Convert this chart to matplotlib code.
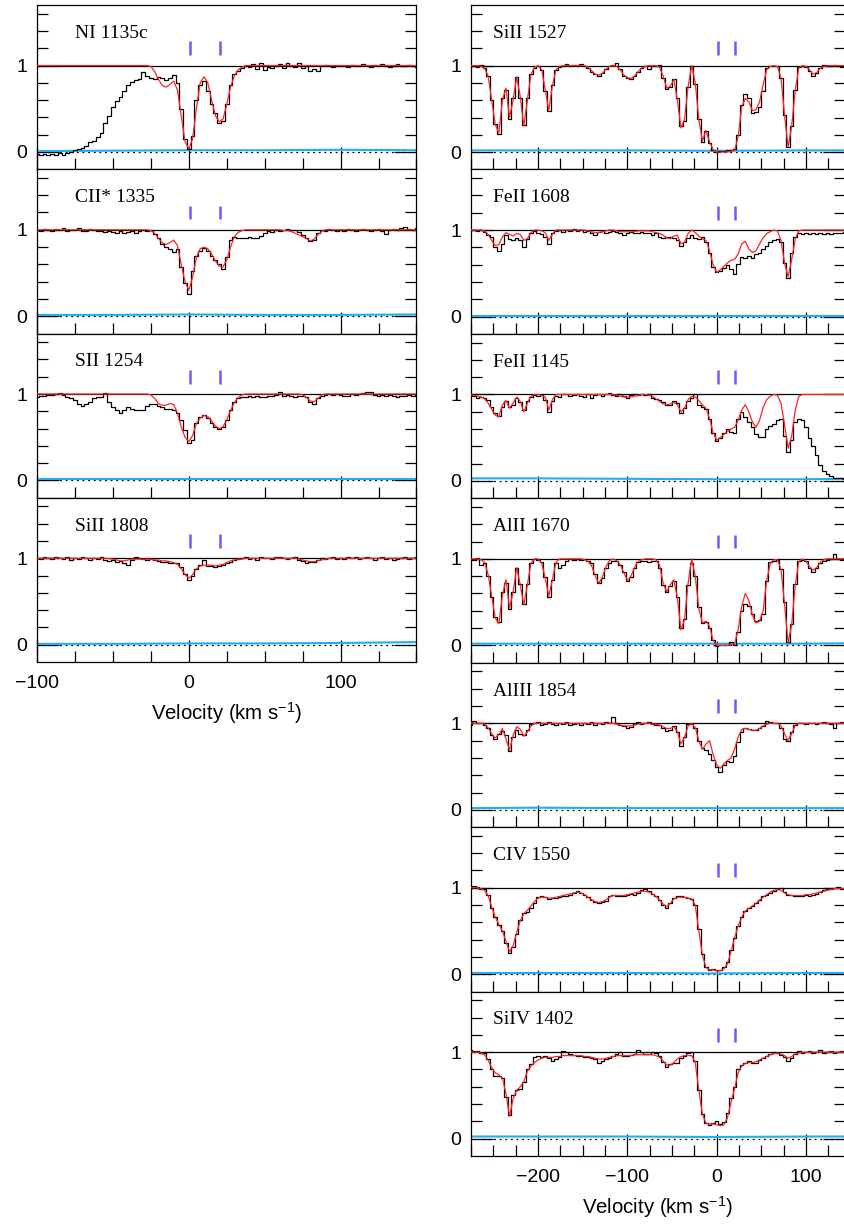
import numpy as np
import matplotlib
matplotlib.use("Agg")
import matplotlib.pyplot as plt
from matplotlib.ticker import MultipleLocator, FixedLocator

plt.rcParams['font.family'] = ['Liberation Sans', 'DejaVu Sans']
plt.rcParams['mathtext.fontset'] = 'custom'
plt.rcParams['mathtext.rm'] = 'Liberation Sans'
plt.rcParams['mathtext.default'] = 'regular'

# velocity sampling of the spectra (km/s)
v_left = np.arange(-100, 150.1, 2.5)     # 101 pixels
v_right = np.arange(-276, 144.1, 4.0)    # 106 pixels
err_v_left = [-100, -50, 0, 50, 100, 150]
err_v_right = [-276, -200, -100, 0, 100, 144]
comp_v = [1.0, 20.5]   # fitted components (purple ticks)

# ---- left column -------------------------------------------------------
ni1135_flux = [
    -0.02, -0.03, -0.02, -0.03, -0.02, -0.03, -0.01, -0.03, -0.01, 0.00,
    0.02, 0.03, 0.05, 0.07, 0.11, 0.13, 0.17, 0.22, 0.33, 0.42,
    0.52, 0.59, 0.64, 0.70, 0.77, 0.81, 0.83, 0.84, 0.92, 0.88,
    0.86, 0.84, 0.87, 0.85, 0.83, 0.85, 0.89, 0.80, 0.50, 0.15,
    0.04, 0.18, 0.60, 0.78, 0.82, 0.70, 0.55, 0.45, 0.34, 0.36,
    0.55, 0.78, 0.90, 0.94, 0.97, 0.99, 0.98, 1.02, 0.96, 1.03,
    0.95, 0.98, 0.97, 0.99, 1.02, 0.97, 1.03, 0.99, 0.98, 1.03,
    0.97, 0.99, 0.94, 0.96, 0.94, 1.00, 1.01, 0.99, 0.98, 1.00,
    0.99, 1.00, 0.98, 1.01, 0.99, 1.00, 1.02, 0.99, 0.98, 1.01,
    1.00, 1.02, 0.99, 0.98, 1.00, 1.02, 0.99, 1.00, 1.01, 0.99,
    0.98]
ni1135_model = [
    1, 1, 1, 1, 1, 1, 1, 1, 1, 1,
    1, 1, 1, 1, 1, 1, 1, 1, 1, 1,
    1, 1, 1, 1, 1, 1, 1, 1, 1, 1,
    0.99, 0.93, 0.84, 0.77, 0.75, 0.78, 0.82, 0.72, 0.42, 0.12,
    0.04, 0.15, 0.50, 0.80, 0.87, 0.80, 0.60, 0.42, 0.35, 0.38,
    0.55, 0.75, 0.88, 0.95, 0.98, 1, 1, 1, 1, 1,
    1, 1, 1, 1, 1, 1, 1, 1, 1, 1,
    1, 1, 1, 1, 1, 1, 1, 1, 1, 1,
    1, 1, 1, 1, 1, 1, 1, 1, 1, 1,
    1, 1, 1, 1, 1, 1, 1, 1, 1, 1,
    1]
ni1135_err = [0.01, 0.015, 0.02, 0.02, 0.025, 0.02]

cii1335_flux = [
    1.00, 0.99, 1.01, 1.00, 0.99, 1.01, 1.00, 1.02, 0.99, 1.00,
    1.00, 1.02, 0.99, 0.99, 1.01, 1.00, 0.98, 0.99, 0.97, 0.98,
    0.97, 0.96, 0.98, 0.96, 0.97, 0.98, 0.96, 0.99, 1.00, 0.99,
    1.00, 0.95, 0.90, 0.84, 0.80, 0.78, 0.74, 0.78, 0.57, 0.38,
    0.26, 0.52, 0.70, 0.76, 0.79, 0.76, 0.70, 0.65, 0.60, 0.55,
    0.69, 0.88, 0.92, 0.90, 0.91, 0.90, 0.92, 0.91, 0.90, 0.93,
    0.96, 0.98, 0.97, 1.00, 0.99, 1.00, 1.01, 1.00, 1.00, 0.97,
    0.94, 0.91, 0.87, 0.88, 0.96, 1.00, 0.99, 1.01, 1.00, 0.99,
    1.00, 0.99, 1.01, 1.00, 0.99, 1.00, 1.01, 1.00, 0.99, 1.00,
    1.01, 0.99, 0.95, 1.00, 1.01, 1.00, 1.02, 1.03, 1.01, 1.00,
    1.02]
cii1335_model = [
    1, 1, 1, 1, 1, 1, 1, 1, 1, 1,
    1, 1, 1, 1, 1, 1, 1, 1, 1, 1,
    1, 1, 1, 1, 1, 1, 1, 1, 1, 1,
    0.99, 0.96, 0.90, 0.85, 0.83, 0.85, 0.88, 0.82, 0.60, 0.40,
    0.30, 0.45, 0.68, 0.78, 0.80, 0.78, 0.72, 0.64, 0.58, 0.57,
    0.65, 0.80, 0.92, 0.97, 0.99, 1, 1, 1, 1, 1,
    1, 1, 1, 1, 1, 0.99, 0.99, 0.98, 0.96, 0.94,
    0.92, 0.90, 0.87, 0.89, 0.94, 0.98, 1, 1, 1, 1,
    1, 1, 1, 1, 1, 1, 1, 1, 1, 1,
    1, 1, 1, 1, 1, 1, 1, 1, 1, 1,
    1]
cii1335_err = [0.015, 0.015, 0.02, 0.015, 0.015, 0.02]

sii1254_flux = [
    0.97, 0.98, 0.98, 0.99, 0.99, 1.00, 1.01, 0.99, 0.97, 0.95,
    0.93, 0.89, 0.86, 0.88, 0.91, 0.95, 0.96, 0.97, 1.01, 0.91,
    0.85, 0.81, 0.78, 0.82, 0.85, 0.83, 0.82, 0.82, 0.82, 0.86,
    0.89, 0.89, 0.86, 0.85, 0.83, 0.83, 0.82, 0.78, 0.70, 0.58,
    0.43, 0.47, 0.66, 0.73, 0.76, 0.72, 0.66, 0.62, 0.59, 0.62,
    0.70, 0.82, 0.91, 0.95, 0.97, 0.97, 0.98, 0.97, 0.98, 0.97,
    0.97, 0.98, 0.98, 0.99, 1.02, 0.98, 0.99, 0.98, 0.97, 0.98,
    0.98, 0.96, 0.91, 0.88, 0.95, 0.98, 0.99, 1.00, 0.99, 1.00,
    0.99, 0.98, 0.98, 1.00, 0.99, 1.00, 1.01, 1.02, 1.02, 0.99,
    0.98, 0.99, 0.98, 0.99, 0.98, 0.97, 0.98, 0.98, 0.99, 0.98,
    0.99]
sii1254_model = [
    1, 1, 1, 1, 1, 1, 1, 1, 1, 1,
    1, 1, 1, 1, 1, 1, 1, 1, 1, 1,
    1, 1, 1, 1, 1, 1, 1, 1, 1, 1,
    0.99, 0.95, 0.89, 0.87, 0.87, 0.89, 0.88, 0.78, 0.62, 0.50,
    0.45, 0.52, 0.66, 0.72, 0.75, 0.74, 0.69, 0.63, 0.60, 0.62,
    0.70, 0.81, 0.90, 0.96, 0.99, 1, 1, 1, 1, 1,
    1, 1, 1, 1, 1, 1, 1, 1, 1, 1,
    0.99, 0.96, 0.92, 0.91, 0.95, 0.99, 1, 1, 1, 1,
    1, 1, 1, 1, 1, 1, 1, 1, 1, 1,
    1, 1, 1, 1, 1, 1, 1, 1, 1, 1,
    1]
sii1254_err = [0.02, 0.02, 0.02, 0.02, 0.02, 0.02]

sii1808_flux = [
    1.00, 0.99, 1.01, 1.00, 0.99, 1.02, 1.00, 0.99, 1.01, 0.98,
    1.00, 0.99, 1.02, 1.00, 0.98, 1.00, 0.99, 1.01, 0.98, 0.97,
    0.98, 0.96, 0.97, 0.95, 0.92, 0.98, 1.02, 1.00, 0.99, 0.98,
    0.99, 0.98, 0.97, 0.96, 0.96, 0.95, 0.95, 0.94, 0.90, 0.82,
    0.75, 0.80, 0.88, 0.92, 0.98, 0.91, 0.91, 0.90, 0.91, 0.92,
    0.95, 0.96, 0.98, 0.99, 1.00, 1.01, 0.99, 1.00, 0.98, 1.01,
    1.00, 1.00, 0.99, 1.01, 1.02, 1.00, 0.99, 1.00, 1.01, 0.98,
    0.97, 0.95, 0.96, 0.96, 0.98, 1.00, 0.99, 1.00, 1.01, 0.99,
    1.00, 0.99, 1.01, 1.00, 1.02, 0.99, 1.00, 1.01, 1.00, 0.98,
    1.00, 1.01, 0.99, 1.00, 0.98, 0.99, 1.00, 1.01, 0.99, 1.00,
    1.01]
sii1808_model = [
    1, 1, 1, 1, 1, 1, 1, 1, 1, 1,
    1, 1, 1, 1, 1, 1, 1, 1, 1, 0.995,
    0.99, 0.98, 0.97, 0.97, 0.98, 0.99, 0.99, 0.99, 0.99, 0.99,
    0.99, 0.98, 0.98, 0.97, 0.97, 0.96, 0.95, 0.93, 0.88, 0.81,
    0.77, 0.81, 0.88, 0.91, 0.92, 0.92, 0.92, 0.91, 0.92, 0.93,
    0.95, 0.97, 0.98, 0.99, 0.99, 1, 1, 1, 1, 1,
    1, 1, 1, 1, 1, 1, 1, 1, 1, 0.99,
    0.98, 0.97, 0.96, 0.96, 0.97, 0.98, 0.99, 1, 1, 1,
    1, 1, 1, 1, 1, 1, 1, 1, 1, 1,
    1, 1, 1, 1, 1, 1, 1, 1, 1, 1,
    1]
sii1808_err = [0.01, 0.01, 0.015, 0.015, 0.02, 0.03]

# ---- right column ------------------------------------------------------
si1527_flux = [
    1.00, 0.99, 0.98, 1.01, 0.97, 0.88, 0.60, 0.32, 0.21, 0.62,
    0.72, 0.38, 0.62, 0.87, 0.63, 0.31, 0.62, 0.90, 0.97, 1.00,
    0.95, 0.71, 0.47, 0.78, 0.95, 0.98, 1.00, 1.02, 0.99, 1.01,
    1.00, 1.02, 0.99, 0.97, 0.93, 0.90, 0.88, 0.91, 0.96, 0.99,
    1.01, 1.03, 0.96, 0.88, 0.86, 0.85, 0.88, 0.93, 0.97, 0.99,
    0.96, 0.99, 1.00, 1.01, 0.86, 0.73, 0.75, 0.84, 0.62, 0.30,
    0.36, 0.75, 0.99, 0.79, 0.38, 0.12, 0.24, 0.10, 0.03, 0.00,
    0.01, 0.01, 0.02, 0.03, 0.04, 0.20, 0.55, 0.67, 0.62, 0.45,
    0.46, 0.52, 0.71, 0.97, 1.00, 0.99, 1.00, 0.86, 0.43, 0.06,
    0.30, 0.72, 0.98, 1.00, 0.98, 0.94, 0.88, 0.92, 0.97, 1.01,
    0.99, 1.00, 1.01, 0.99, 0.98, 0.99]
si1527_model = [
    1.00, 1.00, 1.00, 0.99, 0.97, 0.88, 0.60, 0.32, 0.22, 0.60,
    0.74, 0.40, 0.60, 0.87, 0.64, 0.30, 0.60, 0.90, 0.98, 1.00,
    0.95, 0.72, 0.48, 0.77, 0.95, 0.99, 1.00, 1.00, 1.00, 1.00,
    1.00, 1.00, 1.00, 0.98, 0.94, 0.90, 0.89, 0.91, 0.96, 0.99,
    1.00, 0.99, 0.95, 0.89, 0.86, 0.85, 0.88, 0.93, 0.97, 0.99,
    1.00, 1.00, 1.00, 0.98, 0.88, 0.74, 0.76, 0.84, 0.60, 0.28,
    0.38, 0.76, 1.00, 0.80, 0.38, 0.13, 0.25, 0.12, 0.03, 0.00,
    0.00, 0.00, 0.00, 0.01, 0.02, 0.18, 0.52, 0.62, 0.58, 0.48,
    0.49, 0.58, 0.78, 0.95, 0.99, 1.00, 0.99, 0.86, 0.43, 0.06,
    0.30, 0.72, 0.97, 1.00, 0.99, 0.95, 0.90, 0.92, 0.97, 0.99,
    1.00, 1.00, 1.00, 1.00, 1.00, 1.00]
si1527_err = [0.02, 0.02, 0.02, 0.015, 0.02, 0.02]

fe1608_flux = [
    1.00, 1.00, 0.99, 1.00, 0.98, 0.94, 0.92, 0.80, 0.76, 0.84,
    0.94, 0.90, 0.88, 0.91, 0.88, 0.80, 0.90, 0.96, 0.99, 0.97,
    0.95, 0.92, 0.84, 0.96, 0.99, 1.00, 0.98, 1.00, 0.99, 1.01,
    0.99, 1.00, 0.98, 0.99, 0.97, 0.94, 0.98, 0.99, 0.97, 0.98,
    0.99, 0.98, 0.97, 0.94, 0.96, 0.98, 0.97, 0.97, 0.98, 0.97,
    0.96, 0.94, 0.96, 0.92, 0.91, 0.92, 0.92, 0.91, 0.88, 0.82,
    0.86, 0.91, 0.94, 0.91, 0.90, 0.92, 0.86, 0.73, 0.57, 0.51,
    0.53, 0.56, 0.60, 0.55, 0.49, 0.61, 0.69, 0.68, 0.70, 0.68,
    0.72, 0.73, 0.78, 0.82, 0.86, 0.88, 0.90, 0.86, 0.62, 0.44,
    0.73, 0.92, 0.96, 0.95, 0.96, 0.95, 0.96, 0.95, 0.96, 0.95,
    0.96, 0.95, 0.96, 0.97, 0.96, 0.98]
fe1608_model = [
    1.00, 1.00, 1.00, 1.00, 0.99, 0.95, 0.88, 0.82, 0.83, 0.92,
    0.97, 0.95, 0.93, 0.96, 0.95, 0.88, 0.90, 0.97, 1.00, 1.00,
    0.99, 0.97, 0.88, 0.95, 1.00, 1.00, 1.00, 1.00, 1.00, 1.00,
    1.00, 1.00, 1.00, 0.99, 0.98, 0.97, 0.97, 0.98, 0.99, 1.00,
    1.00, 0.99, 0.98, 0.98, 0.98, 0.98, 0.98, 0.99, 0.99, 0.99,
    0.99, 0.98, 0.97, 0.96, 0.94, 0.91, 0.90, 0.93, 0.94, 0.84,
    0.86, 0.96, 1.00, 0.97, 0.93, 0.90, 0.88, 0.76, 0.60, 0.51,
    0.54, 0.58, 0.62, 0.65, 0.66, 0.72, 0.84, 0.87, 0.78, 0.74,
    0.76, 0.84, 0.91, 0.96, 0.98, 1.00, 0.99, 0.88, 0.62, 0.46,
    0.66, 0.90, 0.99, 1.00, 1.00, 1.00, 1.00, 1.00, 1.00, 1.00,
    1.00, 1.00, 1.00, 1.00, 1.00, 1.00]
fe1608_err = [0.01, 0.01, 0.01, 0.01, 0.01, 0.01]

fe1145_flux = [
    1.00, 0.98, 0.96, 0.97, 0.96, 0.93, 0.85, 0.78, 0.75, 0.86,
    0.92, 0.85, 0.88, 0.96, 0.91, 0.82, 0.92, 0.97, 0.99, 0.98,
    0.99, 0.93, 0.80, 0.92, 0.98, 0.97, 1.00, 1.01, 0.98, 0.99,
    1.00, 0.98, 0.97, 1.00, 0.96, 0.99, 1.01, 0.98, 1.00, 1.02,
    0.99, 0.98, 1.00, 0.98, 0.96, 0.99, 1.00, 0.99, 1.01, 0.99,
    1.01, 0.96, 0.95, 0.93, 0.91, 0.88, 0.88, 0.92, 0.90, 0.79,
    0.84, 0.92, 0.96, 1.01, 0.88, 0.85, 0.83, 0.72, 0.55, 0.46,
    0.50, 0.55, 0.60, 0.57, 0.55, 0.72, 0.80, 0.74, 0.68, 0.62,
    0.54, 0.51, 0.51, 0.60, 0.63, 0.66, 0.70, 0.72, 0.52, 0.33,
    0.47, 0.68, 0.72, 0.70, 0.62, 0.50, 0.40, 0.30, 0.19, 0.12,
    0.08, 0.06, 0.04, 0.03, 0.03, 0.02]
fe1145_model = [
    1.00, 0.99, 0.98, 0.97, 0.95, 0.90, 0.83, 0.76, 0.74, 0.88,
    0.93, 0.84, 0.90, 0.97, 0.92, 0.80, 0.90, 0.98, 1.00, 1.00,
    0.99, 0.97, 0.82, 0.94, 1.00, 1.00, 1.00, 1.00, 1.00, 1.00,
    1.00, 1.00, 1.00, 1.00, 1.00, 1.00, 1.00, 1.00, 1.00, 1.00,
    1.00, 0.99, 0.98, 0.97, 0.97, 0.97, 0.98, 0.99, 1.00, 1.00,
    0.99, 0.98, 0.95, 0.92, 0.89, 0.88, 0.89, 0.91, 0.88, 0.80,
    0.84, 0.94, 0.98, 0.97, 0.93, 0.88, 0.84, 0.72, 0.56, 0.47,
    0.50, 0.54, 0.57, 0.60, 0.62, 0.70, 0.82, 0.88, 0.80, 0.68,
    0.62, 0.70, 0.85, 0.94, 0.98, 1.00, 0.99, 0.90, 0.65, 0.38,
    0.52, 0.82, 0.98, 1.00, 1.00, 1.00, 1.00, 1.00, 1.00, 1.00,
    1.00, 1.00, 1.00, 1.00, 1.00, 1.00]
fe1145_err = [0.03, 0.03, 0.025, 0.02, 0.02, 0.025]

al1670_flux = [
    1.00, 0.99, 1.01, 0.93, 0.95, 0.80, 0.56, 0.33, 0.27, 0.62,
    0.72, 0.42, 0.62, 0.89, 0.71, 0.48, 0.71, 0.95, 1.00, 0.99,
    0.96, 0.79, 0.56, 0.76, 0.95, 0.90, 0.93, 0.98, 1.00, 0.99,
    1.00, 0.99, 1.00, 0.98, 0.95, 0.82, 0.72, 0.78, 0.90, 0.95,
    0.98, 0.97, 0.93, 0.85, 0.74, 0.79, 0.90, 0.96, 0.98, 0.97,
    0.96, 0.98, 0.97, 0.90, 0.70, 0.62, 0.69, 0.74, 0.56, 0.20,
    0.30, 0.70, 0.95, 0.80, 0.44, 0.26, 0.27, 0.20, 0.06, -0.01,
    0.00, 0.00, 0.01, 0.04, 0.01, 0.15, 0.40, 0.48, 0.45, 0.36,
    0.28, 0.29, 0.36, 0.75, 0.96, 0.98, 0.99, 0.88, 0.50, 0.04,
    0.25, 0.71, 0.97, 0.99, 0.97, 0.90, 0.85, 0.90, 0.95, 0.98,
    0.99, 1.00, 1.06, 1.00, 0.99, 1.01]
al1670_model = [
    1.00, 1.00, 1.00, 0.99, 0.96, 0.82, 0.57, 0.32, 0.25, 0.58,
    0.76, 0.43, 0.62, 0.90, 0.70, 0.47, 0.70, 0.95, 1.00, 1.00,
    0.95, 0.78, 0.57, 0.76, 0.96, 1.00, 1.00, 1.00, 1.00, 1.00,
    1.00, 1.00, 0.99, 0.97, 0.92, 0.80, 0.72, 0.79, 0.91, 0.98,
    1.00, 0.98, 0.93, 0.84, 0.75, 0.80, 0.90, 0.97, 0.99, 1.00,
    1.00, 1.00, 0.99, 0.93, 0.72, 0.62, 0.70, 0.76, 0.55, 0.18,
    0.30, 0.72, 1.00, 0.80, 0.43, 0.26, 0.28, 0.22, 0.06, 0.00,
    0.00, 0.00, 0.00, 0.01, 0.02, 0.18, 0.45, 0.60, 0.52, 0.35,
    0.26, 0.28, 0.40, 0.75, 0.95, 0.99, 0.99, 0.88, 0.48, 0.03,
    0.24, 0.70, 0.97, 1.00, 0.97, 0.91, 0.87, 0.90, 0.96, 0.99,
    1.00, 1.00, 1.00, 1.00, 1.00, 1.00]
al1670_err = [0.02, 0.02, 0.02, 0.02, 0.02, 0.025]

al1854_flux = [
    0.98, 1.03, 1.00, 1.00, 0.98, 0.95, 0.86, 0.82, 0.88, 0.91,
    0.86, 0.68, 0.84, 0.92, 0.88, 0.86, 0.92, 0.99, 1.00, 1.01,
    0.98, 0.99, 1.01, 0.99, 0.98, 1.00, 0.99, 1.01, 0.98, 0.99,
    1.00, 0.98, 1.00, 0.99, 1.01, 0.98, 1.00, 0.99, 1.01, 1.00,
    1.07, 1.00, 0.98, 0.97, 0.95, 0.96, 0.99, 1.01, 0.99, 1.00,
    1.01, 0.99, 0.98, 0.98, 0.94, 0.91, 0.92, 0.97, 0.90, 0.74,
    0.84, 0.99, 0.99, 0.94, 0.80, 0.72, 0.69, 0.65, 0.58, 0.50,
    0.44, 0.52, 0.57, 0.55, 0.62, 0.78, 0.90, 0.94, 0.93, 0.92,
    0.92, 0.95, 0.97, 1.03, 1.01, 1.00, 1.00, 0.95, 0.82, 0.80,
    0.90, 0.98, 1.00, 1.00, 0.99, 1.00, 1.00, 0.99, 1.00, 1.01,
    1.00, 0.99, 0.94, 1.00, 1.01, 1.00]
al1854_model = [
    1.00, 1.00, 1.00, 1.00, 0.99, 0.95, 0.88, 0.83, 0.87, 0.94,
    0.82, 0.69, 0.86, 0.96, 0.93, 0.85, 0.90, 0.97, 1.00, 1.00,
    1.00, 1.00, 1.00, 1.00, 1.00, 1.00, 1.00, 1.00, 1.00, 1.00,
    1.00, 1.00, 1.00, 1.00, 1.00, 1.00, 1.00, 1.00, 1.00, 1.00,
    1.00, 0.99, 0.98, 0.97, 0.97, 0.97, 0.98, 0.99, 1.00, 1.00,
    1.00, 0.99, 0.99, 0.98, 0.96, 0.94, 0.94, 0.96, 0.90, 0.76,
    0.84, 0.97, 1.00, 0.95, 0.80, 0.70, 0.76, 0.80, 0.64, 0.52,
    0.48, 0.53, 0.57, 0.60, 0.70, 0.84, 0.93, 0.94, 0.93, 0.92,
    0.92, 0.94, 0.97, 0.99, 1.00, 1.00, 1.00, 0.97, 0.88, 0.80,
    0.88, 0.98, 1.00, 1.00, 1.00, 1.00, 1.00, 1.00, 1.00, 1.00,
    1.00, 1.00, 1.00, 1.00, 1.00, 1.00]
al1854_err = [0.02, 0.025, 0.02, 0.02, 0.02, 0.02]

civ1550_flux = [
    1.00, 1.02, 1.01, 0.99, 0.98, 0.92, 0.77, 0.66, 0.57, 0.50,
    0.36, 0.25, 0.32, 0.47, 0.63, 0.71, 0.72, 0.77, 0.82, 0.89,
    0.90, 0.89, 0.87, 0.88, 0.88, 0.89, 0.90, 0.91, 0.92, 0.94,
    0.96, 0.94, 0.92, 0.89, 0.86, 0.84, 0.82, 0.83, 0.85, 0.90,
    0.92, 0.91, 0.90, 0.91, 0.92, 0.93, 0.92, 0.94, 0.97, 0.99,
    0.96, 0.93, 0.90, 0.86, 0.80, 0.77, 0.82, 0.88, 0.90, 0.90,
    0.89, 0.88, 0.87, 0.80, 0.52, 0.24, 0.08, 0.05, 0.06, 0.05,
    0.05, 0.08, 0.14, 0.28, 0.42, 0.56, 0.66, 0.73, 0.76, 0.79,
    0.82, 0.86, 0.90, 0.92, 0.94, 0.96, 0.98, 1.00, 0.95, 0.92,
    0.92, 0.91, 0.91, 0.90, 0.92, 0.91, 0.92, 0.93, 0.95, 0.97,
    0.98, 0.99, 1.00, 1.01, 0.99, 0.99]
civ1550_model = [
    1.00, 1.00, 1.00, 0.99, 0.97, 0.91, 0.78, 0.66, 0.58, 0.50,
    0.38, 0.26, 0.33, 0.48, 0.62, 0.70, 0.74, 0.79, 0.84, 0.88,
    0.89, 0.89, 0.88, 0.88, 0.89, 0.90, 0.91, 0.92, 0.93, 0.94,
    0.95, 0.94, 0.92, 0.89, 0.86, 0.84, 0.83, 0.84, 0.86, 0.89,
    0.91, 0.91, 0.91, 0.91, 0.92, 0.93, 0.94, 0.95, 0.96, 0.96,
    0.95, 0.93, 0.90, 0.86, 0.81, 0.78, 0.82, 0.87, 0.89, 0.89,
    0.89, 0.88, 0.87, 0.80, 0.50, 0.22, 0.08, 0.05, 0.05, 0.04,
    0.04, 0.06, 0.12, 0.26, 0.42, 0.56, 0.66, 0.73, 0.76, 0.79,
    0.82, 0.86, 0.89, 0.92, 0.95, 0.97, 0.98, 0.97, 0.94, 0.92,
    0.91, 0.91, 0.91, 0.91, 0.92, 0.92, 0.93, 0.94, 0.95, 0.96,
    0.97, 0.98, 0.99, 0.99, 0.99, 0.99]
civ1550_err = [0.015, 0.015, 0.015, 0.01, 0.015, 0.015]

siiv1402_flux = [
    1.02, 1.01, 1.01, 0.99, 0.99, 0.92, 0.80, 0.73, 0.72, 0.70,
    0.48, 0.27, 0.50, 0.56, 0.57, 0.65, 0.81, 0.86, 0.94, 0.95,
    0.94, 0.95, 0.93, 0.90, 0.92, 0.94, 1.01, 1.00, 0.98, 0.97,
    0.96, 0.96, 0.94, 0.94, 0.93, 0.92, 0.88, 0.90, 0.92, 0.93,
    0.96, 0.98, 1.00, 0.96, 0.95, 0.97, 0.98, 1.03, 1.00, 0.98,
    0.98, 1.00, 0.99, 0.96, 0.89, 0.83, 0.86, 0.88, 0.88, 0.93,
    0.95, 0.99, 1.00, 0.90, 0.56, 0.29, 0.18, 0.16, 0.18, 0.20,
    0.17, 0.19, 0.30, 0.47, 0.60, 0.80, 0.85, 0.88, 0.90, 0.87,
    0.88, 0.91, 0.93, 0.96, 0.98, 1.00, 0.99, 0.97, 0.94, 0.90,
    0.93, 0.98, 1.01, 0.99, 1.00, 1.01, 0.99, 1.00, 1.02, 0.99,
    1.00, 1.01, 0.99, 1.00, 1.01, 1.00]
siiv1402_model = [
    1.00, 1.00, 1.00, 0.99, 0.97, 0.91, 0.82, 0.76, 0.74, 0.70,
    0.52, 0.26, 0.46, 0.56, 0.60, 0.66, 0.78, 0.84, 0.88, 0.91,
    0.93, 0.94, 0.94, 0.94, 0.95, 0.95, 0.96, 0.96, 0.96, 0.96,
    0.96, 0.96, 0.95, 0.95, 0.94, 0.93, 0.92, 0.92, 0.93, 0.94,
    0.95, 0.96, 0.96, 0.96, 0.96, 0.96, 0.97, 0.97, 0.97, 0.97,
    0.97, 0.97, 0.96, 0.94, 0.90, 0.85, 0.85, 0.88, 0.92, 0.95,
    0.96, 0.96, 0.96, 0.88, 0.56, 0.28, 0.18, 0.17, 0.17, 0.16,
    0.15, 0.16, 0.24, 0.42, 0.58, 0.76, 0.84, 0.87, 0.88, 0.88,
    0.89, 0.91, 0.93, 0.95, 0.97, 0.98, 0.99, 0.98, 0.96, 0.93,
    0.95, 0.98, 0.99, 1.00, 1.00, 1.00, 1.00, 1.00, 1.00, 1.00,
    1.00, 1.00, 1.00, 1.00, 1.00, 1.00]
siiv1402_err = [0.025, 0.025, 0.025, 0.02, 0.025, 0.025]

left_panels = [
    ("NI 1135c", ni1135_flux, ni1135_model, ni1135_err),
    ("CII* 1335", cii1335_flux, cii1335_model, cii1335_err),
    ("SII 1254", sii1254_flux, sii1254_model, sii1254_err),
    ("SiII 1808", sii1808_flux, sii1808_model, sii1808_err),
]
right_panels = [
    ("SiII 1527", si1527_flux, si1527_model, si1527_err),
    ("FeII 1608", fe1608_flux, fe1608_model, fe1608_err),
    ("FeII 1145", fe1145_flux, fe1145_model, fe1145_err),
    ("AlII 1670", al1670_flux, al1670_model, al1670_err),
    ("AlIII 1854", al1854_flux, al1854_model, al1854_err),
    ("CIV 1550", civ1550_flux, civ1550_model, civ1550_err),
    ("SiIV 1402", siiv1402_flux, siiv1402_model, siiv1402_err),
]

W, H = 845.0, 1226.0
fig = plt.figure(figsize=(W / 100, H / 100), dpi=100)


def draw_panel(ax, v, panel, err_v, xlim, label_x, bottom):
    name, flux, model, err = panel
    ax.set_xlim(*xlim)
    ax.set_ylim(-0.2, 1.7)
    ax.axhline(1, color='black', lw=0.9, zorder=1)
    ax.axhline(0, color='black', lw=0.9, ls=(0, (1.5, 3)), zorder=1)
    ax.plot(err_v, err, color='#21aef0', lw=1.5, zorder=2)
    ax.plot(v, flux, drawstyle='steps-mid', color='black', lw=0.9, zorder=3)
    ax.plot(v, model, color='#ff2222', lw=0.9, zorder=4)
    ax.vlines(comp_v, 1.12, 1.28, color='#7a52ff', lw=1.8, zorder=4)
    ax.text(label_x, 1.32, name, family='Liberation Serif', fontsize=14,
            va='baseline', ha='left')

    ax.xaxis.set_major_locator(MultipleLocator(100))
    ax.xaxis.set_minor_locator(MultipleLocator(25))
    ax.set_yticks([0, 1])
    ax.yaxis.set_minor_locator(FixedLocator([0.2, 0.4, 0.6, 0.8, 1.2, 1.4, 1.6]))
    ax.tick_params(axis='both', which='both', direction='in', width=0.9,
                   top=False, right=True, labelsize=14)
    ax.tick_params(axis='both', which='major', length=16)
    ax.tick_params(axis='both', which='minor', length=8)
    ax.tick_params(axis='y', pad=7)
    ax.tick_params(axis='x', pad=9)
    ax.set_yticklabels(['0', '1'])
    for s in ax.spines.values():
        s.set_linewidth(0.9)
    if bottom:
        ax.set_xlabel(r'Velocity (km s$^{-1}$)', fontsize=14.7, labelpad=6)
    else:
        ax.tick_params(axis='x', labelbottom=False)


ph = 164.25
for i, p in enumerate(left_panels):
    ax = fig.add_axes([37 / W, 1 - (5 + ph * (i + 1)) / H, 379.5 / W, ph / H])
    draw_panel(ax, v_left, p, err_v_left, (-100, 150), -75, i == len(left_panels) - 1)

ph = 164.43
for i, p in enumerate(right_panels):
    ax = fig.add_axes([470.7 / W, 1 - (5 + ph * (i + 1)) / H, 374.3 / W, ph / H])
    draw_panel(ax, v_right, p, err_v_right, (-275.5, 143.7), -250, i == len(right_panels) - 1)

fig.savefig('out.png', dpi=100)
